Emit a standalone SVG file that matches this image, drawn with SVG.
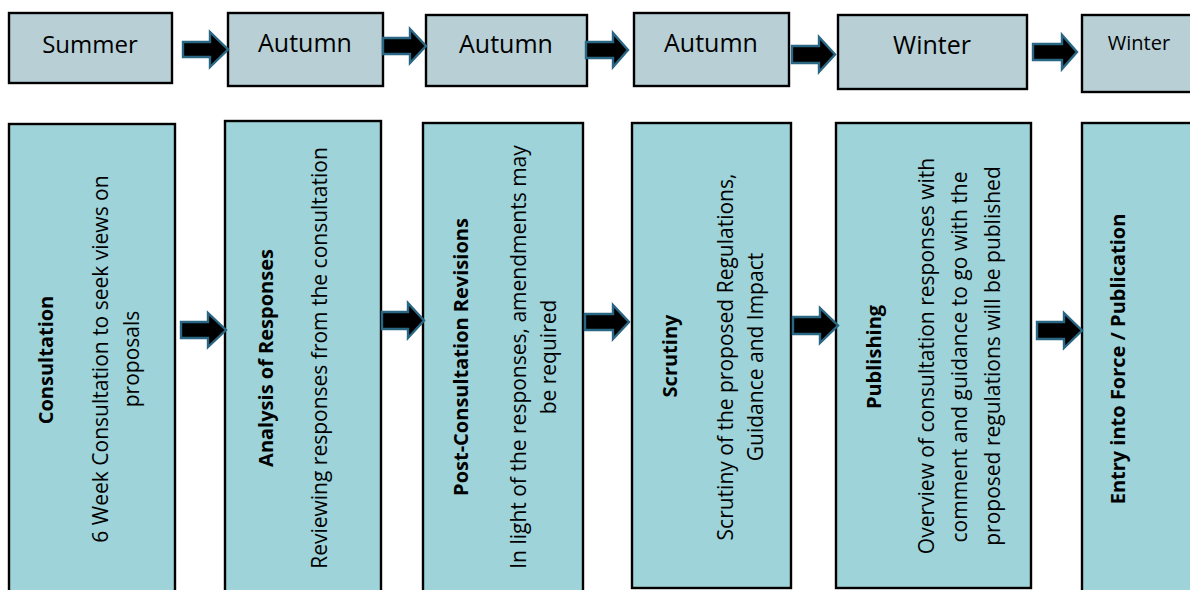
<svg xmlns="http://www.w3.org/2000/svg" width="1190" height="590" viewBox="0 0 1190 590">
<style>
.season{fill:#B7CFD5;stroke:#000;stroke-width:2.4}
.stage{fill:#9DD3D9;stroke:#000;stroke-width:2.4}
.arrow{fill:#000;stroke:#2A6785;stroke-width:2.4;stroke-linejoin:miter}
.st{font-family:"Open Sans","Liberation Sans",sans-serif;font-size:25px;fill:#000;text-anchor:middle}
.tt{font-family:"Open Sans","Liberation Sans",sans-serif;font-size:21px;fill:#000;text-anchor:middle}
.b{font-weight:bold;font-size:20px}
</style>
<rect width="1190" height="590" fill="#fff"/>
<g id="season-summer"><rect class="season" x="9" y="13" width="163" height="70"/><text class="st" x="90" y="53" style="font-size:24px">Summer</text></g>
<g id="season-autumn1"><rect class="season" x="228" y="13" width="155" height="73"/><text class="st" x="305" y="52">Autumn</text></g>
<g id="season-autumn2"><rect class="season" x="426" y="15" width="161" height="71"/><text class="st" x="506" y="53">Autumn</text></g>
<g id="season-autumn3"><rect class="season" x="634" y="13" width="155" height="73"/><text class="st" x="711" y="52">Autumn</text></g>
<g id="season-winter1"><rect class="season" x="838" y="15" width="189" height="74"/><text class="st" x="932" y="54">Winter</text></g>
<g id="season-winter2"><rect class="season" x="1082" y="15" width="130" height="77"/><text class="st" x="1139" y="50" style="font-size:20px">Winter</text></g>

<g id="stage-consultation"><rect class="stage" x="9" y="124" width="166" height="490"/>
<g transform="rotate(-90)"><text class="tt b" x="-360" y="53">Consultation</text><text class="tt" x="-359" y="108">6 Week Consultation to seek views on</text><text class="tt" x="-359" y="139">proposals</text></g></g>
<g id="stage-analysis"><rect class="stage" x="225" y="121" width="156" height="490"/>
<g transform="rotate(-90)"><text class="tt b" x="-358" y="273">Analysis of Responses</text><text class="tt" x="-358" y="327">Reviewing responses from the consultation</text></g></g>
<g id="stage-revisions"><rect class="stage" x="423" y="123" width="160" height="490"/>
<g transform="rotate(-90)"><text class="tt b" x="-357" y="468">Post-Consultation  Revisions</text><text class="tt" x="-357" y="526">In light of the responses, amendments may</text><text class="tt" x="-357" y="556">be required</text></g></g>
<g id="stage-scrutiny"><rect class="stage" x="632" y="123" width="159" height="465"/>
<g transform="rotate(-90)"><text class="tt b" x="-356" y="677">Scrutiny</text><text class="tt" x="-357" y="733">Scrutiny of the proposed Regulations,</text><text class="tt" x="-357" y="763">Guidance and Impact</text></g></g>
<g id="stage-publishing"><rect class="stage" x="836" y="123" width="195" height="465"/>
<g transform="rotate(-90)"><text class="tt b" x="-357" y="881">Publishing</text><text class="tt" x="-356" y="934">Overview of consultation responses with</text><text class="tt" x="-357" y="967">comment and guidance to go with the</text><text class="tt" x="-356" y="1000">proposed regulations will be published</text></g></g>
<g id="stage-entry"><rect class="stage" x="1082" y="123" width="130" height="490"/>
<g transform="rotate(-90)"><text class="tt b" x="-359" y="1125">Entry into Force / Publication</text></g></g>

<g id="connectors">
<path class="arrow" d="M183,42 H210 V32 L228,49.5 L210,67 V57 H183 Z"/>
<path class="arrow" d="M383,38 H410 V29 L426,46 L410,63 V54 H383 Z"/>
<path class="arrow" d="M586,42 H613 V33 L628,50 L613,67 V58 H586 Z"/>
<path class="arrow" d="M792,46 H819 V37 L835,54.5 L819,72 V63 H792 Z"/>
<path class="arrow" d="M1033,44 H1062 V35 L1077,52 L1062,69 V60 H1033 Z"/>
<path class="arrow" d="M181,322 H208 V313 L226,330 L208,347 V338 H181 Z"/>
<path class="arrow" d="M382,312 H408 V303 L424,320.5 L408,338 V329 H382 Z"/>
<path class="arrow" d="M585,314 H613 V305 L629,322 L613,339 V330 H585 Z"/>
<path class="arrow" d="M793,317 H820 V308 L838,325.5 L820,343 V334 H793 Z"/>
<path class="arrow" d="M1037,322 H1064 V313 L1082,330.5 L1064,348 V339 H1037 Z"/>
</g>
</svg>
